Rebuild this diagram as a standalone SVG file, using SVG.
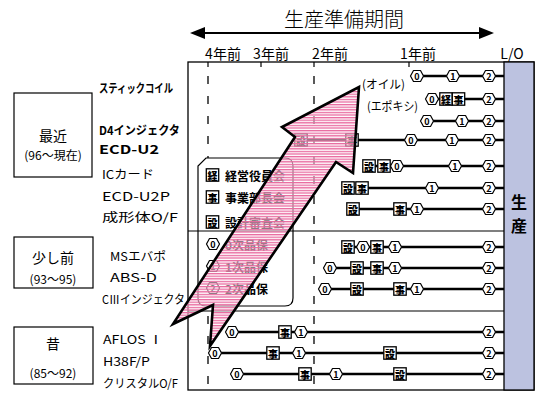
<svg xmlns="http://www.w3.org/2000/svg" width="536" height="393" viewBox="0 0 536 393">
<defs>
<style>
text{font-family:"Noto Sans CJK JP","Liberation Sans",sans-serif;fill:#000;dominant-baseline:central}
.hd{font-size:20px;font-weight:300}
.tk{font-size:14px}
.lb{font-size:12px}
.lbb{font-size:12px;font-weight:700}
.era{font-size:14px}
.eras{font-size:12px}
.lg{font-size:12px;font-weight:700}
.ic{font-size:9px;font-weight:700;text-anchor:middle}
.kj{font-size:10px;font-weight:900;text-anchor:middle}
.box{fill:#fff;stroke:#000;stroke-width:1.2}
.row{stroke:#000;stroke-width:2.5;fill:none}
.sep{stroke:#000;stroke-width:1.2;fill:none}
.dash{stroke:#000;stroke-width:1.3;stroke-dasharray:8 12;fill:none}
.hx{fill:#fff;stroke:#000;stroke-width:1.2;stroke-linejoin:round}
.sq{fill:#fff;stroke:#000;stroke-width:1.3}
</style>
<path id="hex" class="hx" d="M-6.5,0 L-3.5,-5.5 L3.5,-5.5 L6.5,0 L3.5,5.5 L-3.5,5.5 Z"/>
<rect id="sqr" class="sq" x="-6.2" y="-6.2" width="12.4" height="12.4"/>
<pattern id="stripe" patternUnits="userSpaceOnUse" width="8" height="2.6">
<rect width="8" height="2.6" fill="#fff" fill-opacity="0.5"/>
<rect width="8" height="1.3" fill="#e8689e"/>
</pattern>
</defs>

<g id="header">
<text class="hd" x="344" y="18" text-anchor="middle">生産準備期間</text>
<line x1="200" y1="33" x2="484" y2="33" stroke="#000" stroke-width="2.2"/>
<polygon points="190,33 205,27 205,39" fill="#000"/>
<polygon points="494,33 479,27 479,39" fill="#000"/>
</g>

<g id="axis">
<text class="tk" x="223" y="53" text-anchor="middle">4年前</text>
<text class="tk" x="271" y="53" text-anchor="middle">3年前</text>
<text class="tk" x="330" y="53" text-anchor="middle">2年前</text>
<text class="tk" x="418" y="53" text-anchor="middle">1年前</text>
<text class="tk" x="512" y="53" text-anchor="middle">L/O</text>
</g>

<g id="frame">
<rect x="188" y="62" width="346" height="328" fill="#fff" stroke="#000" stroke-width="1.3"/>
<rect id="production" x="504" y="62" width="30" height="328" fill="#bcc2e0" stroke="#000" stroke-width="1.3"/>
<text x="519" y="201" text-anchor="middle" style="font-size:16px;font-weight:700">生</text>
<text x="519" y="225" text-anchor="middle" style="font-size:16px;font-weight:700">産</text>
<line class="sep" x1="208" y1="62" x2="208" y2="67"/>
<line class="sep" x1="261" y1="62" x2="261" y2="67"/>
<line class="sep" x1="314" y1="62" x2="314" y2="67"/>
<line class="sep" x1="409" y1="62" x2="409" y2="67"/>
<line class="dash" x1="208" y1="76" x2="208" y2="390"/>
<line class="dash" x1="314" y1="76" x2="314" y2="390"/>
<line class="sep" x1="188" y1="231" x2="504" y2="231"/>
<line class="sep" x1="188" y1="311" x2="504" y2="311"/>
</g>

<g id="era-recent">
<rect class="box" x="14" y="93" width="78" height="84"/>
<text class="era" x="53" y="135" text-anchor="middle">最近</text>
<text class="eras" x="53" y="154" text-anchor="middle">(96～現在)</text>
</g>
<g id="era-mid">
<rect class="box" x="14" y="237" width="79" height="51"/>
<text class="era" x="53" y="257" text-anchor="middle">少し前</text>
<text class="eras" x="53" y="278" text-anchor="middle">(93～95)</text>
</g>
<g id="era-old">
<rect class="box" x="14" y="327" width="79" height="57"/>
<text class="era" x="53" y="343" text-anchor="middle">昔</text>
<text class="eras" x="53" y="372" text-anchor="middle">(85～92)</text>
</g>

<g id="products">
<text class="lbb" x="99" y="87" textLength="74" lengthAdjust="spacingAndGlyphs">スティックコイル</text>
<text class="lbb" x="99" y="129" textLength="81" lengthAdjust="spacingAndGlyphs">D4インジェクタ</text>
<text class="lbb" x="99" y="148" textLength="60" lengthAdjust="spacingAndGlyphs">ECD-U2</text>
<text class="lb" x="102" y="173" textLength="52" lengthAdjust="spacingAndGlyphs">ICカード</text>
<text class="lb" x="102" y="195" textLength="68" lengthAdjust="spacingAndGlyphs">ECD-U2P</text>
<text class="lb" x="102" y="216" textLength="76" lengthAdjust="spacingAndGlyphs">成形体O/F</text>
<text class="lb" x="110" y="255" textLength="56" lengthAdjust="spacingAndGlyphs">MSエバポ</text>
<text class="lb" x="110" y="276" textLength="47" lengthAdjust="spacingAndGlyphs">ABS-D</text>
<text class="lb" x="102" y="298" textLength="83" lengthAdjust="spacingAndGlyphs">CⅢインジェクタ</text>
<text class="lb" x="103" y="338" textLength="60" lengthAdjust="spacingAndGlyphs">AFLOS Ⅰ</text>
<text class="lb" x="103" y="360" textLength="47" lengthAdjust="spacingAndGlyphs">H38F/P</text>
<text class="lb" x="103" y="382" textLength="75" lengthAdjust="spacingAndGlyphs">クリスタルO/F</text>
<text class="lb" x="362" y="83" textLength="43" lengthAdjust="spacingAndGlyphs">(オイル)</text>
<text class="lb" x="367" y="105" textLength="51" lengthAdjust="spacingAndGlyphs">(エポキシ)</text>
</g>

<g id="legend">
<path d="M206,158 L285,158 Q293,158 293,166 L293,298 Q293,306 285,306 L206,306 Q198,306 198,298 L198,166 Z" fill="#fff" stroke="#000" stroke-width="1.2"/>
<line class="sep" x1="198" y1="231" x2="293" y2="231"/>
<use href="#sqr" x="212.5" y="175"/><text class="kj" x="212.5" y="175">経</text>
<text class="lg" x="225" y="175">経営役員会</text>
<use href="#sqr" x="212.5" y="197"/><text class="kj" x="212.5" y="197">事</text>
<text class="lg" x="225" y="197">事業部長会</text>
<use href="#sqr" x="212.5" y="222"/><text class="kj" x="212.5" y="222">設</text>
<text class="lg" x="225" y="222">設計審査会</text>
<use href="#hex" x="213" y="244"/><text class="ic" x="213" y="244">0</text>
<text class="lg" x="225" y="244">0次品保</text>
<use href="#hex" x="213" y="266"/><text class="ic" x="213" y="266">1</text>
<text class="lg" x="225" y="266">1次品保</text>
<use href="#hex" x="213" y="288"/><text class="ic" x="213" y="288">2</text>
<text class="lg" x="225" y="288">2次品保</text>
</g>

<g id="connectors">
<line class="row" x1="417" y1="76" x2="504" y2="76"/>
<line class="row" x1="432" y1="99" x2="504" y2="99"/>
<line class="row" x1="427" y1="121" x2="504" y2="121"/>
<line class="row" x1="301" y1="140" x2="504" y2="140"/>
<line class="row" x1="369" y1="166" x2="504" y2="166"/>
<line class="row" x1="348" y1="188" x2="504" y2="188"/>
<line class="row" x1="353" y1="209" x2="504" y2="209"/>
<line class="row" x1="348" y1="247" x2="504" y2="247"/>
<line class="row" x1="330" y1="268" x2="504" y2="268"/>
<line class="row" x1="325" y1="289" x2="504" y2="289"/>
<line class="row" x1="232" y1="332" x2="504" y2="332"/>
<line class="row" x1="215" y1="353" x2="504" y2="353"/>
<line class="row" x1="237" y1="374" x2="504" y2="374"/>
</g>

<g id="milestones">
<use href="#hex" x="417" y="76"/><text class="ic" x="417" y="76">0</text>
<use href="#hex" x="453" y="76"/><text class="ic" x="453" y="76">1</text>
<use href="#hex" x="489" y="76"/><text class="ic" x="489" y="76">2</text>

<use href="#hex" x="432" y="99"/><text class="ic" x="432" y="99">0</text>
<use href="#sqr" x="446" y="99"/><text class="kj" x="446" y="99">経</text>
<use href="#sqr" x="458.5" y="99"/><text class="kj" x="458.5" y="99">事</text>
<use href="#hex" x="489" y="99"/><text class="ic" x="489" y="99">2</text>

<use href="#hex" x="427" y="121"/><text class="ic" x="427" y="121">0</text>
<use href="#hex" x="462" y="121"/><text class="ic" x="462" y="121">1</text>
<use href="#hex" x="489" y="121"/><text class="ic" x="489" y="121">2</text>

<use href="#sqr" x="301" y="140"/><text class="kj" x="301" y="140">設</text>
<use href="#sqr" x="352" y="140"/><text class="kj" x="352" y="140">事</text>
<use href="#hex" x="411" y="140"/><text class="ic" x="411" y="140">0</text>
<use href="#hex" x="452" y="140"/><text class="ic" x="452" y="140">1</text>
<use href="#hex" x="489" y="140"/><text class="ic" x="489" y="140">2</text>

<use href="#sqr" x="369" y="166"/><text class="kj" x="369" y="166">設</text>
<use href="#sqr" x="384" y="166"/><text class="kj" x="384" y="166">事</text>
<use href="#hex" x="397" y="166"/><text class="ic" x="397" y="166">0</text>
<use href="#hex" x="455" y="166"/><text class="ic" x="455" y="166">1</text>
<use href="#hex" x="489" y="166"/><text class="ic" x="489" y="166">2</text>

<use href="#sqr" x="348" y="188"/><text class="kj" x="348" y="188">設</text>
<use href="#sqr" x="362" y="188"/><text class="kj" x="362" y="188">事</text>
<use href="#hex" x="432" y="188"/><text class="ic" x="432" y="188">1</text>
<use href="#hex" x="489" y="188"/><text class="ic" x="489" y="188">2</text>

<use href="#sqr" x="353" y="209"/><text class="kj" x="353" y="209">設</text>
<use href="#sqr" x="400" y="209"/><text class="kj" x="400" y="209">事</text>
<use href="#hex" x="417" y="209"/><text class="ic" x="417" y="209">1</text>
<use href="#hex" x="489" y="209"/><text class="ic" x="489" y="209">2</text>

<use href="#sqr" x="348" y="247"/><text class="kj" x="348" y="247">設</text>
<use href="#hex" x="363" y="247"/><text class="ic" x="363" y="247">0</text>
<use href="#sqr" x="377" y="247"/><text class="kj" x="377" y="247">事</text>
<use href="#hex" x="395" y="247"/><text class="ic" x="395" y="247">1</text>
<use href="#hex" x="489" y="247"/><text class="ic" x="489" y="247">2</text>

<use href="#hex" x="330" y="268"/><text class="ic" x="330" y="268">0</text>
<use href="#sqr" x="357" y="268"/><text class="kj" x="357" y="268">設</text>
<use href="#sqr" x="377" y="268"/><text class="kj" x="377" y="268">事</text>
<use href="#hex" x="395" y="268"/><text class="ic" x="395" y="268">1</text>
<use href="#hex" x="489" y="268"/><text class="ic" x="489" y="268">2</text>

<use href="#hex" x="325" y="289"/><text class="ic" x="325" y="289">0</text>
<use href="#sqr" x="357" y="289"/><text class="kj" x="357" y="289">設</text>
<use href="#sqr" x="400" y="289"/><text class="kj" x="400" y="289">事</text>
<use href="#hex" x="417" y="289"/><text class="ic" x="417" y="289">1</text>
<use href="#hex" x="489" y="289"/><text class="ic" x="489" y="289">2</text>

<use href="#hex" x="232" y="332"/><text class="ic" x="232" y="332">0</text>
<use href="#sqr" x="285" y="332"/><text class="kj" x="285" y="332">事</text>
<use href="#hex" x="301" y="332"/><text class="ic" x="301" y="332">1</text>
<use href="#hex" x="489" y="332"/><text class="ic" x="489" y="332">2</text>

<use href="#hex" x="215" y="353"/><text class="ic" x="215" y="353">0</text>
<use href="#sqr" x="273" y="353"/><text class="kj" x="273" y="353">事</text>
<use href="#hex" x="299" y="353"/><text class="ic" x="299" y="353">1</text>
<use href="#sqr" x="390" y="353"/><text class="kj" x="390" y="353">設</text>
<use href="#hex" x="489" y="353"/><text class="ic" x="489" y="353">2</text>

<use href="#hex" x="237" y="374"/><text class="ic" x="237" y="374">0</text>
<use href="#sqr" x="305" y="374"/><text class="kj" x="305" y="374">事</text>
<use href="#hex" x="336" y="374"/><text class="ic" x="336" y="374">1</text>
<use href="#sqr" x="400" y="374"/><text class="kj" x="400" y="374">設</text>
<use href="#hex" x="489" y="374"/><text class="ic" x="489" y="374">2</text>
</g>

<g id="progress-arrow">
<polygon points="359,87 353,173 336,162 210,346 213,305 173,324 295,137 282,127" fill="url(#stripe)" stroke="#000" stroke-width="2.6" stroke-linejoin="miter"/>
</g>
</svg>
